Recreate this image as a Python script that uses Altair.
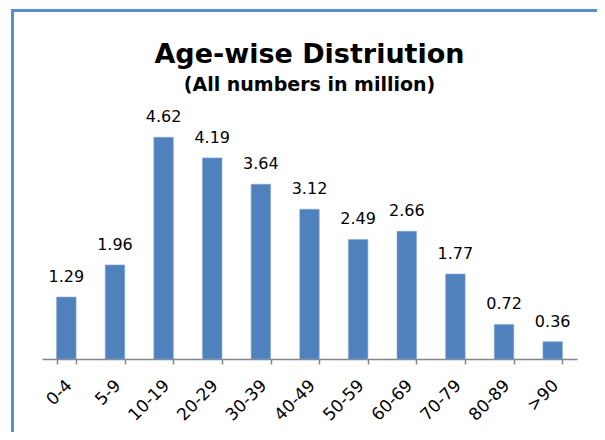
import altair as alt
import pandas as pd

categories = ["0-4", "5-9", "10-19", "20-29", "30-39", "40-49", "50-59", "60-69", "70-79", "80-89", ">90"]
values = [1.29, 1.96, 4.62, 4.19, 3.64, 3.12, 2.49, 2.66, 1.77, 0.72, 0.36]

df = pd.DataFrame({"age": categories, "value": values})

FONT = "DejaVu Sans"

x = alt.X("age:N", sort=categories, title=None,
          scale=alt.Scale(paddingInner=0.6, paddingOuter=0.3),
          axis=alt.Axis(labelAngle=-45, labelFontSize=17, labelFont=FONT, labelColor="black",
                        labelAlign="right", labelBaseline="top",
                        domainColor="#868686", domainWidth=1.5, tickColor="#868686",
                        tickSize=5, tickWidth=1.5, tickBand="extent", labelPadding=13,
                        labelOffset=-3))
y = alt.Y("value:Q", scale=alt.Scale(domain=[0, 5]), axis=None)

base = alt.Chart(df)
bars = base.mark_bar(color="#4F81BD", stroke="#7FA6D6", strokeWidth=0.6).encode(x=x, y=y)
labels = base.mark_text(baseline="alphabetic", dy=-15, fontSize=16, font=FONT, color="black").encode(
    x=x, y=y, text=alt.Text("value:Q", format=".2f"))

frame = alt.Chart(pd.DataFrame({"a": [0]})).mark_rect(
    fill=None, stroke="#558ED5", strokeWidth=3).encode(
    x=alt.value(-29.5), x2=alt.value(561), y=alt.value(-108.5), y2=alt.value(340))

chart = alt.layer(frame, bars, labels).properties(
    width=535, height=240,
    padding={"left": 34, "top": 111, "right": 20, "bottom": 73},
    autosize=alt.AutoSizeParams(type="none"),
    title=alt.TitleParams(
        text="Age-wise Distriution",
        subtitle="(All numbers in million)",
        fontSize=27, font=FONT, fontWeight="bold", color="black",
        subtitleFontSize=19, subtitleFont=FONT, subtitleFontWeight="bold", subtitleColor="black",
        anchor="middle", frame="group", offset=-87, subtitlePadding=7)
).configure_view(stroke=None)

chart.save("out.html", embed_options={"renderer": "svg", "actions": False})
